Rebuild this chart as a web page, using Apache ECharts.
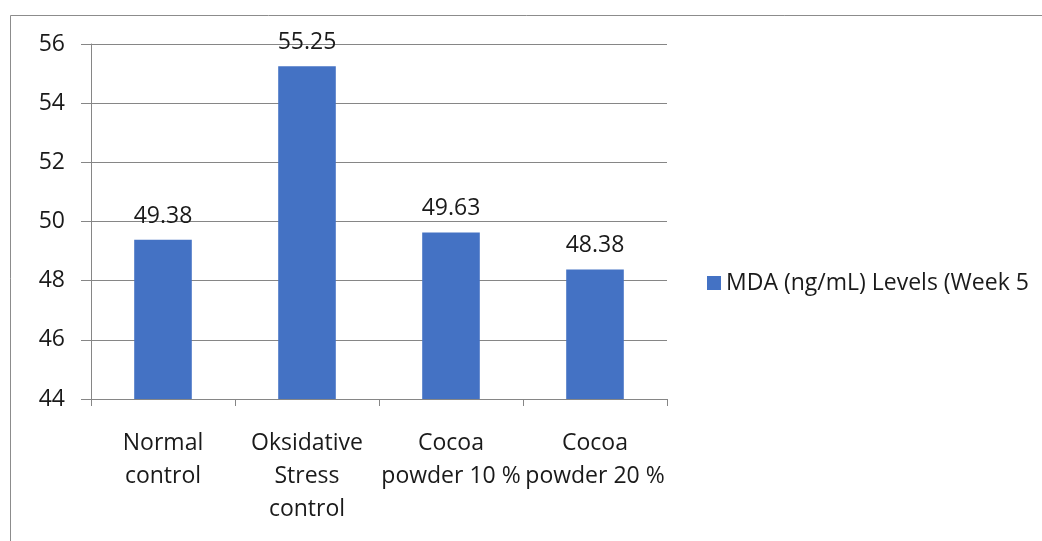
<!DOCTYPE html>
<html>
<head>
<meta charset="utf-8">
<style>
  html, body { margin: 0; padding: 0; background: #ffffff; }
  #chart { width: 1042px; height: 541px; }
</style>
<script src="https://cdn.jsdelivr.net/npm/echarts@6/dist/echarts.min.js"></script>
</head>
<body>
<div id="chart"></div>
<script>
// Treatment groups along the x axis
const categories = [
  'Normal\ncontrol',
  'Oksidative\nStress\ncontrol',
  'Cocoa\npowder 10 %',
  'Cocoa\npowder 20 %'
];
// MDA concentration per group
const mdaValues = [49.38, 55.25, 49.63, 48.38];
const seriesName = 'MDA (ng/mL) Levels (Week 5';
const yMin = 44, yMax = 56, yStep = 2;

const FONT = '"Open Sans", "Liberation Sans", sans-serif';
const FONT_SIZE = 23;
const TEXT_COLOR = '#1a1a1a';
const GRID_GRAY = '#868686';

const chart = echarts.init(document.getElementById('chart'), null, { renderer: 'canvas' });
chart.setOption({
  animation: false,
  backgroundColor: '#ffffff',
  textStyle: { fontFamily: FONT },
  // outer chart frame
  graphic: [{
    type: 'rect',
    shape: { x: 10.5, y: 15.5, width: 1100, height: 600 },
    style: { fill: 'none', stroke: '#8c8c8c', lineWidth: 1 },
    silent: true,
    z: -1
  }],
  grid: { left: 91, top: 44, right: 375, bottom: 142, containLabel: false },
  legend: {
    left: 707,
    top: 270,
    padding: 0,
    itemWidth: 14,
    itemHeight: 14,
    itemGap: 0,
    icon: 'rect',
    textStyle: { fontFamily: FONT, fontSize: FONT_SIZE, lineHeight: 26, color: TEXT_COLOR },
    data: [seriesName]
  },
  xAxis: {
    type: 'category',
    data: categories,
    axisLine: { lineStyle: { color: GRID_GRAY, width: 1 } },
    axisTick: { show: true, length: 7, alignWithLabel: false, lineStyle: { color: GRID_GRAY } },
    axisLabel: {
      interval: 0,
      margin: 28,
      fontFamily: FONT,
      fontSize: FONT_SIZE,
      lineHeight: 33,
      color: TEXT_COLOR
    }
  },
  yAxis: {
    type: 'value',
    min: yMin,
    max: yMax,
    interval: yStep,
    axisLine: { show: true, lineStyle: { color: GRID_GRAY, width: 1 } },
    axisTick: { show: true, inside: false, length: 10, lineStyle: { color: GRID_GRAY } },
    splitLine: { show: true, lineStyle: { color: GRID_GRAY, width: 1 } },
    axisLabel: { margin: 26, fontFamily: FONT, fontSize: FONT_SIZE, color: TEXT_COLOR }
  },
  series: [{
    name: seriesName,
    type: 'bar',
    data: mdaValues,
    barWidth: '40%',
    itemStyle: { color: '#4472c4' },
    label: {
      show: true,
      position: 'top',
      distance: 12,
      fontFamily: FONT,
      fontSize: FONT_SIZE,
      color: TEXT_COLOR,
      formatter: p => p.value.toFixed(2)
    }
  }]
});
</script>
</body>
</html>
